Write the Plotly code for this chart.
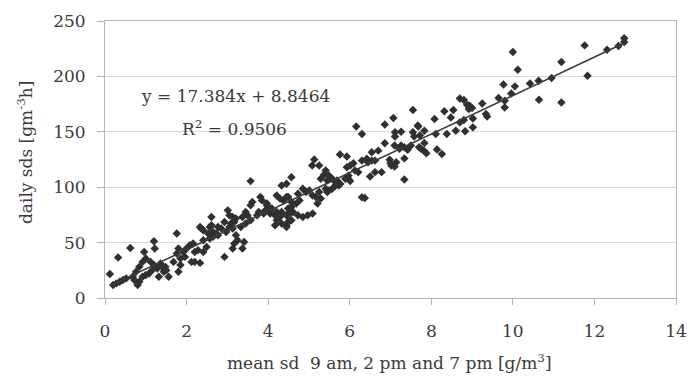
import plotly.graph_objects as go

# Data (mean sd [g/m3], daily sds [gm-3h])
x_vals = [
    10.0, 10.12, 9.77, 10.05, 10.42, 10.63, 10.95, 10.64, 11.19, 11.19, 11.76, 11.83, 12.31, 12.59, 12.73, 12.73, 9.96, 9.65, 9.8, 9.8,
    8.7, 8.8, 8.94, 9.0, 8.92, 8.88, 9.25, 9.34, 9.37, 9.02, 9.02, 8.8, 8.7, 8.48, 8.54, 8.32, 8.08, 7.55, 7.67, 7.83, 7.55, 7.26,
    7.72, 8.11, 8.38, 8.6, 8.83, 7.83, 7.75, 7.82, 7.88, 8.14, 8.26, 7.5, 7.42, 7.26, 7.22, 7.34, 7.14,
    6.16, 6.3, 6.86, 7.07, 7.11, 7.11, 7.68, 7.58, 6.86, 7.1, 7.34, 7.7,
    5.76, 5.93, 6.01, 6.09, 6.3, 6.42, 6.54, 6.7, 6.62, 6.98, 7.02, 7.1, 7.0, 6.62, 6.78, 6.5, 5.97, 6.01, 7.34, 5.65, 5.73,
    5.13, 5.08, 5.93, 5.25, 5.41, 5.49, 5.37, 5.29, 5.45, 5.57, 6.13, 6.21, 5.97, 5.89, 6.45, 6.54, 5.69, 5.77, 5.65, 5.57,
    5.49, 5.45, 5.41, 6.3, 6.37, 4.57, 4.33, 4.45, 4.85, 4.93, 5.01, 5.09, 5.17, 4.21, 4.29, 4.37, 4.45, 4.57, 4.69, 4.49,
    4.61, 4.73, 4.85, 4.97, 5.09, 5.21, 5.29, 5.25, 4.21, 4.33, 4.45, 4.53, 4.09, 4.05, 4.17, 3.97,
    3.57, 3.61, 3.57, 3.81, 3.85, 3.97, 4.01, 3.93, 3.89, 3.77, 3.73, 3.45, 3.37, 3.49, 3.57, 3.45, 3.33, 3.01, 3.05, 3.13,
    3.21, 3.17, 3.09, 2.61, 2.61, 2.77, 2.65, 2.73, 2.85, 2.93, 2.97, 2.33, 2.41, 2.53, 2.65, 2.77, 3.05, 3.13, 3.21, 3.25,
    3.17, 3.41, 3.37, 3.13, 2.93, 4.21, 4.33, 4.29, 4.45, 4.53, 4.17, 4.49, 4.45, 4.57, 4.49, 4.57, 4.73, 4.77, 2.2, 2.33,
    0.12, 0.32, 0.62, 0.2, 0.28, 0.36, 0.44, 0.52, 0.68, 0.76, 0.84, 0.92, 1.0, 0.96, 0.8, 0.84, 0.72, 0.92, 1.0, 1.2,
    1.22, 1.12, 1.2, 1.28, 1.36, 1.16, 1.08, 1.32, 1.44, 1.48, 1.56, 1.4, 1.5, 1.76, 1.8, 1.76, 1.85, 1.68, 1.85, 1.8,
    1.92, 1.96, 2.0, 2.08, 2.12, 2.16, 2.36, 2.57, 2.57, 2.41, 2.49, 2.2, 2.28, 2.41,
]
y_vals = [
    222, 206, 192.7, 191, 193.6, 196, 198.5, 179, 213, 176.5, 228, 200.5, 224, 227.5, 234.4, 231, 184.6, 180.5, 178, 172,
    180, 178.7, 173.5, 171.5, 170.6, 174.2, 175.6, 166, 163.7, 162, 154, 160.7, 158.5, 163, 169.7, 168.5, 161.6, 169.7, 155.6, 151, 149.6, 150,
    146.6, 148, 148, 151, 150.5, 139.8, 134.6, 133, 130.7, 134, 130, 137.6, 133.7, 137.6, 134.6, 126, 122.6,
    154.7, 148, 156.5, 162.5, 149.6, 145.7, 154.7, 145.7, 139.7, 137.6, 136, 136,
    129.5, 127.7, 119.6, 121.7, 124, 125.6, 131.6, 133, 124, 124.7, 119.6, 118.7, 121.7, 113.6, 113.6, 109.7, 107.6, 105.5, 107, 104.6, 101.6,
    125, 119.6, 118, 119.6, 115, 110.6, 111.2, 107.6, 106, 107.6, 115, 113.6, 110.6, 107.6, 122.6, 124, 106, 103, 101.6, 98.6,
    97.1, 95.6, 98.6, 91, 90.2, 109, 101.6, 103.1, 98.6, 95.6, 97.1, 92.6, 91.1, 92.6, 89.7, 88.1, 91.1, 82.1, 85.2, 80.7,
    77.6, 74.6, 73.1, 74.6, 76.2, 85.2, 89.7, 95.6, 70.1, 67.2, 65.6, 70.1, 80.7, 76.2, 74.6, 85.2,
    105.5, 86.6, 83.6, 91.1, 88.1, 83.6, 80.7, 79.1, 76.2, 77.6, 74.6, 77.6, 73.1, 74.6, 70.1, 67.2, 64.1, 79.1, 74.6, 73.1,
    71.7, 68.6, 67.2, 73.1, 65.6, 64.1, 59.6, 58.2, 62.7, 68.6, 59.6, 64.1, 61.2, 58.2, 55.2, 56.7, 64.1, 62.7, 56.7, 52.2,
    49.2, 50.6, 44.7, 44.7, 37.1, 77.6, 77.6, 73.1, 74.6, 76.2, 65.6, 68.6, 64.1, 70.1, 91.1, 86.6, 94.2, 88.1, 32.6, 31.7,
    21.6, 36.6, 45.2, 11.7, 13.2, 14.7, 16.2, 17.7, 19.2, 23.7, 28.1, 32.6, 35.7, 41.6, 11.7, 14.7, 16.2, 19.2, 20.7, 51.3,
    44.7, 32.6, 29.7, 26.7, 31.2, 25.2, 22.2, 19.2, 23.7, 28.1, 19.2, 28, 25, 58.2, 44.7, 40.2, 35.7, 32.6, 29.7, 23.7,
    41.6, 37.1, 44.7, 47.7, 32.6, 49.2, 62.7, 64.1, 53.7, 52.2, 46.1, 41.6, 43.2, 41.6,
]

# Linear trendline given in the chart
slope = 17.384
intercept = 8.8464
r_squared = 0.9506

x_ticks = [0, 2, 4, 6, 8, 10, 12, 14]
y_ticks = [0, 50, 100, 150, 200, 250]

x_line = [min(x_vals), max(x_vals)]
y_line = [slope * v + intercept for v in x_line]

FONT = "DejaVu Serif, serif"
TXT = "#3a3a3a"

W, H = 698, 376
PL, PR, PT, PB = 105, 687, 20, 298  # plot area in pixels


def dom_x(px):
    return (px - PL) / (PR - PL)


def dom_y(py):
    return (PB - py) / (PB - PT)


fig = go.Figure()
fig.add_trace(go.Scatter(
    x=x_vals, y=y_vals, mode="markers",
    marker=dict(symbol="diamond", size=6.5, color="#303030"),
    showlegend=False, hoverinfo="x+y",
))
fig.add_trace(go.Scatter(
    x=x_line, y=y_line, mode="lines",
    line=dict(color="#3c3c3c", width=1.6),
    showlegend=False, hoverinfo="skip",
))

fig.add_annotation(
    x=dom_x(238), y=dom_y(95), xref="x domain", yref="y domain", showarrow=False,
    xanchor="center", yanchor="middle",
    text="y = %.3fx + %.4f" % (slope, intercept),
    font=dict(family=FONT, size=17, color=TXT),
)
fig.add_annotation(
    x=dom_x(237), y=dom_y(127), xref="x domain", yref="y domain", showarrow=False,
    xanchor="center", yanchor="middle",
    text="R<sup>2</sup> = %.4f" % r_squared,
    font=dict(family=FONT, size=17, color=TXT),
)
# axis titles
fig.add_annotation(
    x=dom_x(23), y=dom_y(152), xref="x domain", yref="y domain", showarrow=False,
    xanchor="center", yanchor="middle", textangle=-90,
    text="daily sds [gm<sup>-3</sup>h]",
    font=dict(family=FONT, size=17, color=TXT),
)
fig.add_annotation(
    x=dom_x(395), y=dom_y(362), xref="x domain", yref="y domain", showarrow=False,
    xanchor="center", yanchor="middle",
    text="mean sd  9 am, 2 pm and 7 pm [g/m<sup>3</sup>]",
    font=dict(family=FONT, size=17, color=TXT),
)

fig.update_layout(
    width=W, height=H,
    margin=dict(l=PL, r=W - PR, t=PT, b=H - PB),
    paper_bgcolor="white", plot_bgcolor="white",
    font=dict(family=FONT, size=17, color=TXT),
    xaxis=dict(
        range=[0, 14], tickvals=x_ticks, ticktext=[str(t) for t in x_ticks],
        showgrid=False, zeroline=False,
        showline=True, linecolor="#b5b5b5", linewidth=1, mirror=True,
        ticks="outside", ticklen=6, tickcolor="#b5b5b5",
        ticklabelstandoff=12,
        tickfont=dict(family=FONT, size=17, color=TXT),
    ),
    yaxis=dict(
        range=[0, 250], tickvals=y_ticks, ticktext=[str(t) for t in y_ticks],
        showgrid=True, gridcolor="#d8d8d8", gridwidth=1, zeroline=False,
        showline=True, linecolor="#b5b5b5", linewidth=1, mirror=True,
        ticks="outside", ticklen=7, tickcolor="#b5b5b5",
        ticklabelstandoff=8,
        tickfont=dict(family=FONT, size=17, color=TXT),
    ),
)

fig.write_html(
    "out.html",
    config={"displayModeBar": False},
    post_script="document.body.style.margin='0';document.body.style.overflow='hidden';",
)
